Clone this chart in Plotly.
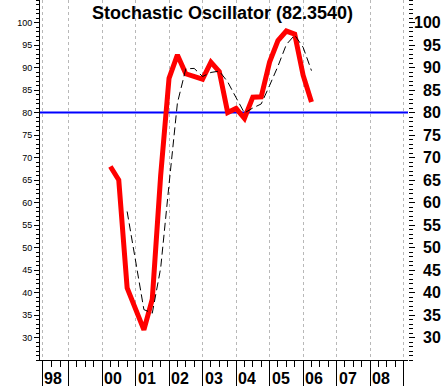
import plotly.graph_objects as go

# Quarter-end positions (fractional years)
quarters = [2000.25, 2000.5, 2000.75, 2001.0, 2001.25, 2001.5, 2001.75, 2002.0,
            2002.25, 2002.5, 2002.75, 2003.0, 2003.25, 2003.5, 2003.75, 2004.0,
            2004.25, 2004.5, 2004.75, 2005.0, 2005.25, 2005.5, 2005.75, 2006.0,
            2006.25]

# %K (thick red)
stoch_k = [68.0, 65.0, 41.0, 36.0, 31.7, 38.5, 66.0, 87.6,
           92.8, 88.6, 88.1, 87.4, 91.2, 89.1, 80.0, 80.9,
           78.7, 83.4, 83.5, 91.2, 96.0, 98.1, 97.4, 88.3,
           82.354]

# %D (thin dashed black)
stoch_d = [None, None, 58.0, 47.3, 36.2, 35.4, 45.4, 64.0,
           82.1, 89.7, 89.8, 88.0, 88.9, 89.2, 86.8, 83.3,
           79.9, 81.0, 81.9, 86.0, 90.3, 95.1, 97.2, 94.5,
           89.3]

level_line = 80

year_ticks = [1998.22, 1999, 2000, 2001, 2002, 2003, 2004, 2005, 2006, 2007, 2008, 2009]
year_labels = ["98", "", "00", "01", "02", "03", "04", "05", "06", "07", "08", ""]

y_ticks = [30, 35, 40, 45, 50, 55, 60, 65, 70, 75, 80, 85, 90, 95, 100]

title_text = "Stochastic Oscillator (82.3540)"

x_range = [1998.15, 2009.13]
y_range = [25, 105]

quarter_minor = [1998.5, 1998.75] + [y + q for y in range(1999, 2009) for q in (0.25, 0.5, 0.75)]

fig = go.Figure()
fig.add_trace(go.Scatter(x=quarters, y=stoch_k, mode="lines",
                         line=dict(color="#ff0000", width=5), hoverinfo="skip"))
fig.add_trace(go.Scatter(x=quarters, y=stoch_d, mode="lines",
                         line=dict(color="black", width=1, dash="8px,4px"), hoverinfo="skip"))
# invisible trace so the right axis renders
fig.add_trace(go.Scatter(x=[x_range[0]], y=[y_range[0]], yaxis="y2", mode="markers",
                         marker=dict(opacity=0), hoverinfo="skip"))

fig.add_shape(type="line", xref="paper", x0=0, x1=1, yref="y", y0=level_line, y1=level_line,
              line=dict(color="#0000ff", width=2), layer="between")

annotations = []
annotations.append(dict(text="<b>" + title_text + "</b>", xref="paper", yref="paper",
                        x=(222 - 40) / 368, y=1, yanchor="middle", yshift=-13,
                        showarrow=False, font=dict(family="Arial, Liberation Sans", size=18, color="black")))
for xv, lab in zip(year_ticks, year_labels):
    if lab:
        annotations.append(dict(text="<b>" + lab + "</b>", xref="x", yref="paper", x=xv, y=0,
                                xanchor="left", yanchor="top", xshift=1, yshift=-9,
                                height=16, borderpad=0,
                                showarrow=False,
                                font=dict(family="Arial, Liberation Sans", size=16, color="black")))
for v in y_ticks:
    annotations.append(dict(text="<b>" + str(v) + "</b>", xref="paper", yref="y", x=1, y=v,
                            xanchor="right", yanchor="middle", xshift=35,
                            showarrow=False,
                            font=dict(family="Arial, Liberation Sans", size=16, color="black")))

fig.update_layout(
    width=446, height=386,
    margin=dict(l=40, r=38, t=0, b=26),
    paper_bgcolor="white", plot_bgcolor="white",
    showlegend=False,
    annotations=annotations,
    xaxis=dict(range=x_range, tickmode="array", tickvals=year_ticks, showticklabels=False,
               ticks="outside", ticklen=26, tickcolor="black", tickwidth=1,
               showgrid=True, gridcolor="#b8b8b8", griddash="3px,3px", gridwidth=1,
               showline=True, linecolor="black", linewidth=1, zeroline=False,
               minor=dict(tickvals=quarter_minor, ticks="outside", ticklen=6,
                          tickcolor="black", tickwidth=1, showgrid=False)),
    yaxis=dict(range=y_range, tickmode="array", tickvals=y_ticks,
               ticks="outside", ticklen=5, tickcolor="black", tickwidth=1,
               tickfont=dict(family="Arial, Liberation Sans", size=9, color="black"),
               showline=True, linecolor="black", linewidth=1, showgrid=False, zeroline=False,
               minor=dict(dtick=1, tick0=0, ticks="outside", ticklen=3, tickcolor="black",
                          tickwidth=1, showgrid=False)),
    yaxis2=dict(range=y_range, overlaying="y", side="right", tickmode="array", tickvals=y_ticks,
                showticklabels=False, ticks="outside", ticklen=6, tickcolor="black", tickwidth=1,
                showline=False, showgrid=False, zeroline=False,
                minor=dict(dtick=1, tick0=0, ticks="outside", ticklen=4, tickcolor="black",
                           tickwidth=1, showgrid=False)),
)

fig.write_html("out.html", config={"displayModeBar": False},
               post_script="document.body.style.margin='0';document.body.style.overflow='hidden';")
